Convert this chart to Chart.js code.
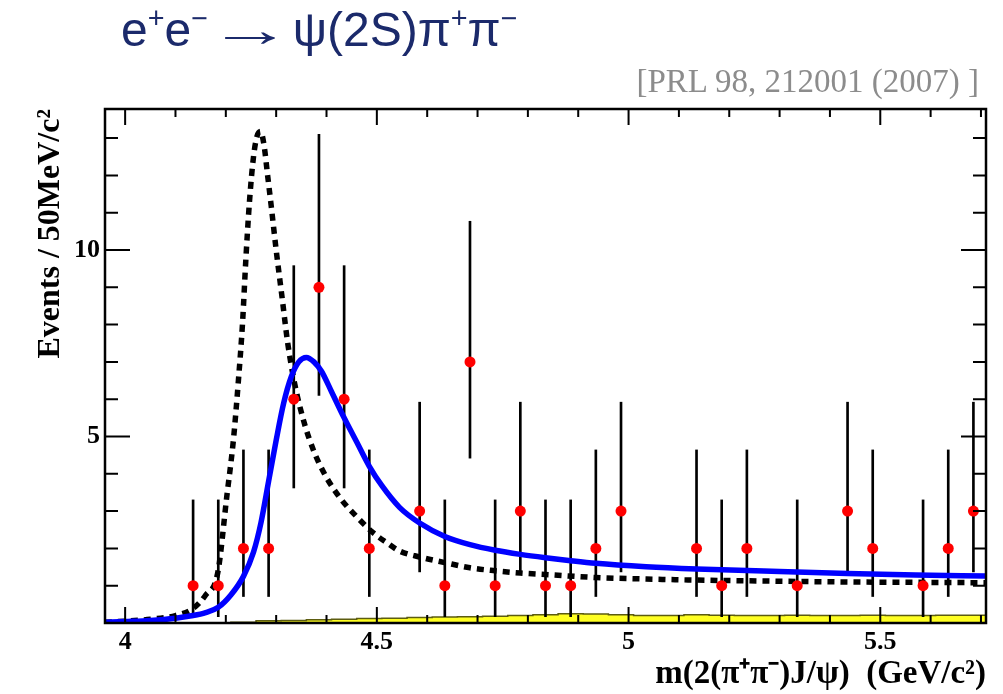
<!DOCTYPE html>
<html>
<head>
<meta charset="utf-8">
<script src="https://cdn.jsdelivr.net/npm/chart.js@4.4.1/dist/chart.umd.min.js"></script>
<style>
  html, body { margin: 0; padding: 0; background: #fff; }
  #wrap { position: relative; width: 1003px; height: 694px; overflow: hidden; }
  #title {
    position: absolute; left: 121px; top: 2px; white-space: nowrap;
    font-family: "Liberation Sans", Arial, sans-serif; font-size: 48px; color: #1b2a6b;
  }
  #title sup { font-size: 0.6em; vertical-align: 0.62em; line-height: 0; }
  #title .arr { display: inline-block; width: 58px; text-align: center; transform: scaleX(1.75); }
  #cite {
    position: absolute; right: 24px; top: 63px; white-space: nowrap;
    font-family: "Liberation Serif", "Times New Roman", serif; font-size: 33px; color: #8c8c8c;
  }
  canvas { position: absolute; left: 0; top: 0; }
</style>
</head>
<body>
<div id="wrap">
  <canvas id="c" width="1003" height="694"></canvas>
  <div id="title">e<sup>+</sup>e<sup>−</sup> <span class="arr">→</span> ψ(2S)π<sup>+</sup>π<sup>−</sup></div>
  <div id="cite">[PRL 98, 212001 (2007) ]</div>
</div>
<script>
// histogram binning (GeV/c^2)
const binStart = 3.96;
const binWidth = 0.05;

// data points: bin centre, events, lower / upper edge of error bar
const massPts = [4.135, 4.185, 4.235, 4.285, 4.335, 4.385, 4.435, 4.485, 4.585, 4.635, 4.685, 4.735, 4.785,
                 4.835, 4.885, 4.935, 4.985, 5.135, 5.185, 5.235, 5.335, 5.435, 5.485, 5.585, 5.635, 5.685];
const counts  = [1, 1, 2, 2, 6, 9, 6, 2, 3, 1, 7, 1, 3, 1, 1, 2, 3, 2, 1, 2, 1, 3, 2, 1, 2, 3];
const errLow  = [0.17, 0.17, 0.71, 0.71, 3.62, 6.1, 3.62, 0.71, 1.37, 0.17, 4.42, 0.17, 1.37,
                 0.17, 0.17, 0.71, 1.37, 0.71, 0.17, 0.71, 0.17, 1.37, 0.71, 0.17, 0.71, 1.37];
const errHigh = [3.3, 3.3, 4.64, 4.64, 9.58, 13.1, 9.58, 4.64, 5.92, 3.3, 10.77, 3.3, 5.92,
                 3.3, 3.3, 4.64, 5.92, 4.64, 3.3, 4.64, 3.3, 5.92, 4.64, 3.3, 4.64, 5.92];

// background (yellow histogram), one value per bin from 3.96
const bgCounts = [0, 0, 0, 0, 0, 0, 0.02, 0.06, 0.07, 0.09, 0.1, 0.12, 0.13, 0.15, 0.16, 0.17, 0.18,
                  0.2, 0.22, 0.25, 0.24, 0.22, 0.2, 0.2, 0.22, 0.21, 0.2, 0.2, 0.21, 0.2,
                  0.2, 0.21, 0.2, 0.2, 0.21];

// fit (blue solid)
const fitMass   = [3.96, 4.00, 4.05, 4.10, 4.135, 4.16, 4.185, 4.21, 4.235, 4.255, 4.27, 4.285, 4.30, 4.315,
                   4.33, 4.345, 4.36, 4.375, 4.39, 4.41, 4.435, 4.46, 4.485, 4.51, 4.545, 4.585, 4.635,
                   4.685, 4.735, 4.785, 4.835, 4.885, 4.935, 5.035, 5.135, 5.30, 5.435, 5.57, 5.71];
const fitEvents = [0.02, 0.04, 0.07, 0.13, 0.2, 0.28, 0.42, 0.75, 1.25, 1.9, 2.7, 3.8, 4.9, 5.9,
                   6.6, 7.0, 7.12, 7.0, 6.75, 6.2, 5.5, 4.85, 4.2, 3.68, 3.1, 2.68, 2.32,
                   2.1, 1.95, 1.84, 1.75, 1.67, 1.6, 1.51, 1.45, 1.38, 1.33, 1.29, 1.26];

// alternative shape (black dashed)
const altMass   = [3.96, 4.00, 4.05, 4.10, 4.134, 4.16, 4.184, 4.202, 4.215, 4.225, 4.233, 4.24, 4.247,
                   4.255, 4.262, 4.269, 4.276, 4.283, 4.29, 4.30, 4.312, 4.323, 4.337, 4.355, 4.375,
                   4.40, 4.43, 4.46, 4.49, 4.52, 4.545, 4.585, 4.635, 4.685, 4.735, 4.785, 4.835,
                   4.935, 5.035, 5.135, 5.30, 5.435, 5.57, 5.71];
const altEvents = [0.02, 0.05, 0.1, 0.2, 0.38, 0.75, 1.35, 3.4, 4.9, 6.5, 8.0, 9.8, 11.3,
                   12.5, 13.05, 13.18, 12.8, 12.0, 11.2, 10.0, 8.7, 7.5, 6.4, 5.4, 4.6,
                   3.9, 3.3, 2.85, 2.45, 2.15, 1.93, 1.77, 1.62, 1.48, 1.40, 1.34, 1.30,
                   1.22, 1.18, 1.15, 1.12, 1.10, 1.09, 1.08];

const xMajorTicks = [4, 4.5, 5, 5.5];
const yMajorTicks = [5, 10];
const xRange = [3.96, 5.71];
const yRange = [0, 13.78];

const serif = '"Liberation Serif", "Times New Roman", serif';
const pts = (xs, ys) => xs.map((x, i) => ({ x: x, y: ys[i] }));
const bgData = bgCounts.map((v, i) => ({ x: binStart + i * binWidth, y: v }));
bgData.push({ x: xRange[1], y: bgCounts[bgCounts.length - 1] });

// ROOT-like frame with inward ticks on all four sides
const frameTicks = {
  id: 'frameTicks',
  afterDraw(chart) {
    const { ctx, chartArea: a, scales: { x, y } } = chart;
    ctx.save();
    ctx.strokeStyle = '#000';
    ctx.lineWidth = 2;
    ctx.beginPath();
    for (let i = 40; i <= 57; i++) {
      const px = x.getPixelForValue(i / 10);
      const len = i % 5 === 0 ? 16 : 8;
      ctx.moveTo(px, a.bottom); ctx.lineTo(px, a.bottom - len);
      ctx.moveTo(px, a.top); ctx.lineTo(px, a.top + len);
    }
    for (let j = 1; j <= 13; j++) {
      const py = y.getPixelForValue(j);
      const len = j % 5 === 0 ? 25 : 13;
      ctx.moveTo(a.left, py); ctx.lineTo(a.left + len, py);
      ctx.moveTo(a.right, py); ctx.lineTo(a.right - len, py);
    }
    ctx.stroke();
    ctx.lineWidth = 2.5;
    ctx.strokeRect(a.left, a.top, a.right - a.left, a.bottom - a.top);
    ctx.restore();
  }
};

new Chart(document.getElementById('c'), {
  type: 'scatter',
  data: {
    datasets: [
      {
        type: 'scatter',
        data: pts(massPts, counts),
        pointRadius: 5.5,
        pointBackgroundColor: '#ff0000',
        pointBorderWidth: 0,
        order: 0
      },
      {
        type: 'bar',
        data: massPts.map((m, i) => ({ x: m, y: [errLow[i], errHigh[i]] })),
        backgroundColor: '#000',
        barThickness: 2,
        order: 3
      },
      {
        type: 'line',
        data: pts(fitMass, fitEvents),
        borderColor: '#0000ff',
        borderWidth: 5.5,
        pointRadius: 0,
        cubicInterpolationMode: 'monotone',
        order: 1
      },
      {
        type: 'line',
        data: pts(altMass, altEvents),
        borderColor: '#000',
        borderWidth: 5.5,
        borderDash: [7, 6],
        pointRadius: 0,
        cubicInterpolationMode: 'monotone',
        order: 2
      },
      {
        type: 'line',
        data: bgData,
        stepped: 'after',
        fill: 'origin',
        backgroundColor: '#ffff22',
        borderColor: '#5c5c10',
        borderWidth: 1.5,
        pointRadius: 0,
        order: 4
      }
    ]
  },
  options: {
    responsive: false,
    animation: false,
    events: [],
    layout: { padding: { top: 109, right: 17, left: 0, bottom: 0 } },
    plugins: { legend: { display: false }, tooltip: { enabled: false } },
    scales: {
      x: {
        type: 'linear',
        min: xRange[0], max: xRange[1],
        offset: false,
        grid: { display: false, drawTicks: false },
        border: { display: false },
        afterBuildTicks: s => { s.ticks = xMajorTicks.map(v => ({ value: v })); },
        afterFit: s => { s.height = 71; },
        ticks: {
          color: '#000', padding: 4,
          font: { family: serif, size: 26, weight: 'bold' },
          callback: v => String(v)
        },
        title: {
          display: true, align: 'end',
          text: 'm(2(π⁺π⁻)J/ψ)  (GeV/c²)',
          color: '#000',
          font: { family: serif, size: 33, weight: 'bold' },
          padding: { top: 0, bottom: 0 }
        }
      },
      y: {
        type: 'linear',
        min: yRange[0], max: yRange[1],
        grid: { display: false, drawTicks: false },
        border: { display: false },
        afterBuildTicks: s => { s.ticks = yMajorTicks.map(v => ({ value: v })); },
        afterFit: s => { s.width = 105; },
        ticks: {
          color: '#000', padding: 5,
          font: { family: serif, size: 26, weight: 'bold' }
        },
        title: {
          display: true, align: 'end',
          text: 'Events / 50MeV/c²',
          color: '#000',
          font: { family: serif, size: 32, weight: 'bold' },
          padding: { top: 32, bottom: 0 }
        }
      }
    }
  },
  plugins: [frameTicks]
});
</script>
</body>
</html>
